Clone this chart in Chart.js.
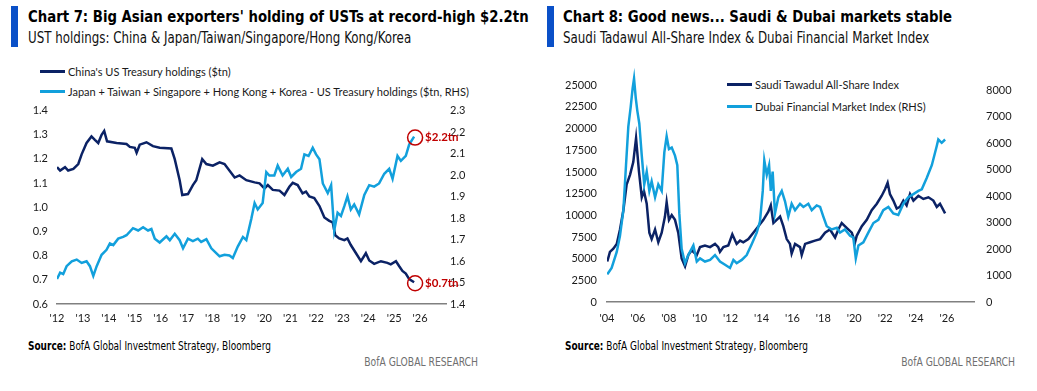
<!DOCTYPE html>
<html>
<head>
<meta charset="utf-8">
<script src="https://cdn.jsdelivr.net/npm/chart.js@4.4.1/dist/chart.umd.min.js"></script>
<style>
  body { margin: 0; width: 1037px; height: 391px; background: #fff; overflow: hidden; position: relative;
         font-family: "Liberation Sans Narrow", "DejaVu Sans Condensed", sans-serif; }
  .bar { position: absolute; top: 6px; width: 7px; height: 41px; background: #0a50c8; }
  .title { position: absolute; top: 8px; font-weight: bold; font-size: 15px; line-height: 18px; color: #000;
           white-space: nowrap; transform: scaleX(0.983); transform-origin: 0 0; }
  .sub { position: absolute; top: 29px; font-size: 15px; line-height: 18px; color: #111; white-space: nowrap;
         transform: scaleX(0.88); transform-origin: 0 0; }
  .src { position: absolute; top: 339px; font-size: 12px; line-height: 14px; color: #000; white-space: nowrap;
         transform: scaleX(0.83); transform-origin: 0 0; }
  .brand { position: absolute; top: 355px; font-size: 12.5px; line-height: 14px; color: #707070; white-space: nowrap;
           transform: scaleX(0.82); transform-origin: 100% 0; text-align: right; width: 200px; }
  .leg { position: absolute; height: 16px; display: flex; align-items: center; font-family: Lato, sans-serif;
         font-size: 11px; color: #1a1a1a; white-space: nowrap; }
  .leg i { display: inline-block; width: 25px; height: 3px; margin-right: 3px; }
  canvas { position: absolute; }
</style>
</head>
<body>
<div class="bar" style="left:11px"></div>
<div class="title" style="left:28px">Chart 7: Big Asian exporters' holding of USTs at record-high $2.2tn</div>
<div class="sub" style="left:28px">UST holdings: China &amp; Japan/Taiwan/Singapore/Hong Kong/Korea</div>

<div class="bar" style="left:547px"></div>
<div class="title" style="left:563px">Chart 8: Good news... Saudi &amp; Dubai markets stable</div>
<div class="sub" style="left:563px">Saudi Tadawul All-Share Index &amp; Dubai Financial Market Index</div>

<div class="leg" style="left:40px;top:63px"><i style="background:#0b2265"></i>China's US Treasury holdings ($tn)</div>
<div class="leg" style="left:40px;top:83px"><i style="background:#12a0dc"></i>Japan + Taiwan + Singapore + Hong Kong + Korea - US Treasury holdings ($tn, RHS)</div>

<div class="leg" style="left:727px;top:76px"><i style="background:#0b2265"></i>Saudi Tawadul All-Share Index</div>
<div class="leg" style="left:727px;top:98px"><i style="background:#12a0dc"></i>Dubai Financial Market Index (RHS)</div>

<canvas id="c7" width="520" height="240" style="left:0;top:95px"></canvas>
<canvas id="c8" width="517" height="290" style="left:520px;top:45px"></canvas>

<div class="src" style="left:28px"><b>Source:</b> BofA Global Investment Strategy, Bloomberg</div>
<div class="brand" style="left:278px">BofA GLOBAL RESEARCH</div>
<div class="src" style="left:565px"><b>Source:</b> BofA Global Investment Strategy, Bloomberg</div>
<div class="brand" style="left:815px">BofA GLOBAL RESEARCH</div>

<script>
// chart 7 - UST holdings
const chinaDates = [2012.0, 2012.12, 2012.31, 2012.43, 2012.63, 2012.82, 2012.95, 2013.14, 2013.33, 2013.46, 2013.59,
  2013.72, 2013.82, 2013.93, 2014.3, 2014.68, 2014.81, 2015.0, 2015.07, 2015.19, 2015.45, 2015.7, 2015.96, 2016.41,
  2016.54, 2016.73, 2016.83, 2017.05, 2017.24, 2017.37, 2017.6, 2017.76, 2018.01, 2018.27, 2018.46, 2018.85, 2019.04,
  2019.3, 2019.62, 2019.81, 2020.0, 2020.13, 2020.32, 2020.58, 2020.77, 2020.96, 2021.09, 2021.28, 2021.47, 2021.6,
  2021.73, 2021.92, 2022.12, 2022.31, 2022.5, 2022.63, 2022.73, 2022.88, 2023.08, 2023.2, 2023.33, 2023.53, 2023.72,
  2023.91, 2024.04, 2024.23, 2024.49, 2024.74, 2024.87, 2025.07, 2025.19, 2025.32, 2025.45, 2025.58, 2025.77];
const chinaVals = [1.166, 1.152, 1.166, 1.152, 1.159, 1.179, 1.219, 1.266, 1.293, 1.279, 1.266,
  1.30, 1.316, 1.273, 1.266, 1.262, 1.25, 1.246, 1.226, 1.259, 1.269, 1.253, 1.246, 1.243,
  1.199, 1.112, 1.051, 1.055, 1.092, 1.112, 1.199, 1.179, 1.172, 1.186, 1.179, 1.123, 1.132,
  1.112, 1.103, 1.099, 1.078, 1.092, 1.072, 1.069, 1.051, 1.085, 1.101, 1.092, 1.058, 1.065,
  1.045, 1.038, 1.005, 0.958, 0.944, 0.938, 0.884, 0.871, 0.864, 0.871, 0.844, 0.81, 0.777,
  0.81, 0.78, 0.766, 0.777, 0.77, 0.764, 0.777, 0.757, 0.737, 0.726, 0.703, 0.69];

const asiaDates = [2012.0, 2012.12, 2012.24, 2012.37, 2012.57, 2012.76, 2012.95, 2013.14, 2013.27, 2013.4, 2013.53,
  2013.72, 2013.91, 2014.04, 2014.17, 2014.36, 2014.55, 2014.68, 2014.93, 2015.13, 2015.32, 2015.51, 2015.64, 2015.77,
  2015.96, 2016.22, 2016.35, 2016.54, 2016.73, 2016.86, 2017.05, 2017.24, 2017.43, 2017.56, 2017.76, 2017.95, 2018.14,
  2018.27, 2018.46, 2018.65, 2018.78, 2018.97, 2019.17, 2019.3, 2019.49, 2019.62, 2019.74, 2019.93, 2020.07, 2020.19,
  2020.38, 2020.51, 2020.7, 2020.9, 2021.03, 2021.22, 2021.41, 2021.54, 2021.7, 2021.86, 2021.99, 2022.12, 2022.25,
  2022.44, 2022.57, 2022.69, 2022.82, 2022.95, 2023.08, 2023.2, 2023.33, 2023.46, 2023.65, 2023.85, 2024.04, 2024.23,
  2024.42, 2024.62, 2024.81, 2024.94, 2025.13, 2025.26, 2025.45, 2025.58, 2025.77];
const asiaVals = [1.516, 1.546, 1.539, 1.576, 1.599, 1.607, 1.591, 1.599, 1.576, 1.531, 1.576,
  1.629, 1.652, 1.682, 1.674, 1.704, 1.712, 1.72, 1.753, 1.742, 1.757, 1.742, 1.749, 1.704,
  1.686, 1.715, 1.697, 1.727, 1.697, 1.659, 1.704, 1.693, 1.704, 1.689, 1.702, 1.659, 1.637,
  1.622, 1.629, 1.626, 1.614, 1.667, 1.712, 1.697, 1.795, 1.87, 1.84, 1.87, 2.014, 1.998,
  1.998, 2.044, 1.998, 2.029, 1.991, 2.014, 2.029, 2.096, 2.089, 2.127, 2.096, 2.074, 1.961,
  1.916, 1.953, 1.742, 1.825, 1.81, 1.855, 1.901, 1.84, 1.863, 1.817, 1.908, 1.953, 1.946,
  1.961, 2.006, 2.029, 1.983, 2.089, 2.066, 2.089, 2.142, 2.179];

const c7Years = [2012, 2013, 2014, 2015, 2016, 2017, 2018, 2019, 2020, 2021, 2022, 2023, 2024, 2025, 2026];
const c7YearLabels = ["'12", "'13", "'14", "'15", "'16", "'17", "'18", "'19", "'20", "'21", "'22", "'23", "'24", "'25", "'26"];
const c7EndLabels = ['$0.7tn', '$2.2tn'];

// chart 8 - Saudi / Dubai
const saudiDates = [2004.02, 2004.19, 2004.41, 2004.63, 2004.84, 2005.06, 2005.27, 2005.49, 2005.7, 2005.88, 2005.96,
  2006.07, 2006.25, 2006.39, 2006.57, 2006.74, 2006.89, 2007.11, 2007.32, 2007.54, 2007.75, 2007.86, 2008.01, 2008.19,
  2008.4, 2008.61, 2008.83, 2009.05, 2009.26, 2009.48, 2009.81, 2010.02, 2010.34, 2010.67, 2010.99, 2011.2, 2011.31,
  2011.53, 2011.85, 2012.11, 2012.39, 2012.61, 2012.82, 2013.15, 2013.47, 2013.8, 2014.12, 2014.44, 2014.6, 2014.77,
  2014.98, 2015.2, 2015.41, 2015.63, 2015.84, 2015.95, 2016.17, 2016.49, 2016.6, 2016.82, 2017.14, 2017.46, 2017.79,
  2018.11, 2018.43, 2018.76, 2018.97, 2019.19, 2019.51, 2019.84, 2020.05, 2020.16, 2020.49, 2020.81, 2021.13, 2021.46,
  2021.78, 2021.99, 2022.16, 2022.31, 2022.53, 2022.75, 2022.96, 2023.18, 2023.39, 2023.61, 2023.83, 2024.15, 2024.47,
  2024.8, 2025.12, 2025.34, 2025.55, 2025.88];
const saudiVals = [4667, 5778, 6144, 6700, 8367, 10589, 13556, 14667, 16144, 18900, 17256,
  15033, 12078, 12811, 11333, 8000, 7256, 8367, 6889, 8000, 9856, 11522, 9478, 10033,
  9478, 8000, 5033, 4111, 5411, 5967, 5411, 6333, 6522, 6333, 6700, 6333, 5778,
  6333, 6522, 7811, 6700, 7078, 6889, 7256, 8000, 8744, 9478, 10411, 11144, 9111,
  9478, 9856, 8744, 7256, 6700, 5589, 6700, 6333, 5411, 6700, 6889, 7078, 7256,
  8000, 8367, 7444, 8367, 9111, 8556, 8000, 6889, 7633, 8744, 9478, 10589, 11333,
  12256, 13000, 13744, 12444, 11700, 10778, 10967, 11700, 11144, 12444, 11700, 12256, 11889,
  12078, 11700, 10967, 11333, 10222];

const dubaiDates = [2004.02, 2004.3, 2004.63, 2004.84, 2005.06, 2005.23, 2005.38, 2005.53, 2005.66, 2005.75, 2005.86,
  2005.96, 2006.09, 2006.25, 2006.41, 2006.57, 2006.74, 2006.89, 2007.11, 2007.32, 2007.54, 2007.71, 2007.86, 2008.01,
  2008.19, 2008.4, 2008.55, 2008.68, 2008.83, 2009.05, 2009.26, 2009.59, 2009.81, 2010.02, 2010.34, 2010.67, 2010.99,
  2011.31, 2011.64, 2011.96, 2012.18, 2012.39, 2012.72, 2013.04, 2013.37, 2013.69, 2013.9, 2014.08, 2014.18, 2014.34,
  2014.49, 2014.6, 2014.72, 2014.87, 2015.09, 2015.31, 2015.52, 2015.73, 2015.95, 2016.17, 2016.49, 2016.71, 2017.03,
  2017.25, 2017.57, 2017.79, 2018.0, 2018.22, 2018.54, 2018.87, 2019.08, 2019.4, 2019.73, 2019.94, 2020.1, 2020.27,
  2020.59, 2020.91, 2021.24, 2021.56, 2021.88, 2022.21, 2022.53, 2022.85, 2023.18, 2023.5, 2023.83, 2024.15, 2024.37,
  2024.69, 2025.02, 2025.34, 2025.44, 2025.66, 2025.88];
const dubaiVals = [1044, 1284, 1891, 2498, 3465, 5164, 6618, 7345, 8073, 8436, 7709,
  7225, 6738, 5527, 4436, 4920, 4193, 4556, 3953, 4436, 4193, 5647, 6255, 5771,
  5829, 5527, 5164, 3345, 2011, 1465, 1771, 2135, 1527, 1647, 1527, 1589, 1771,
  1527, 1407, 1284, 1589, 1465, 1589, 1771, 2193, 2618, 3044, 4193, 5345, 4800,
  5164, 4193, 4920, 3345, 3953, 4193, 3800, 3225, 3709, 3465, 3709, 3589, 3709,
  3465, 3647, 3589, 3225, 2862, 2738, 2800, 2618, 2738, 2498, 2436, 1647, 2135,
  2255, 2618, 2982, 3102, 3465, 3589, 3345, 3284, 3709, 3953, 4073, 4193, 4255,
  4680, 5164, 5891, 6135, 6011, 6135];

const c8Years = [2004, 2006, 2008, 2010, 2012, 2014, 2016, 2018, 2020, 2022, 2024, 2026];
const c8YearLabels = ["'04", "'06", "'08", "'10", "'12", "'14", "'16", "'18", "'20", "'22", "'24", "'26"];

const NAVY = '#0b2265';
const SKY = '#12a0dc';
const tickFont = { family: 'Lato', size: 11 };

const pts = (xs, ys) => xs.map((x, i) => ({ x, y: ys[i] }));

// red circle + label on the last point of each series
const endMarks = {
  id: 'endMarks',
  afterDatasetsDraw(chart, args, opts) {
    if (!opts.labels) return;
    const ctx = chart.ctx;
    chart.data.datasets.forEach((ds, i) => {
      const meta = chart.getDatasetMeta(i);
      const p = meta.data[meta.data.length - 1];
      ctx.save();
      ctx.strokeStyle = '#c00000';
      ctx.lineWidth = 1.5;
      ctx.beginPath();
      ctx.arc(p.x + 1, p.y + 1, 7.5, 0, Math.PI * 2);
      ctx.stroke();
      ctx.fillStyle = '#c00000';
      ctx.font = 'bold 11.5px Lato';
      ctx.textBaseline = 'middle';
      ctx.fillText(opts.labels[i], p.x + 11, p.y + 1);
      ctx.restore();
    });
  }
};

new Chart(document.getElementById('c7'), {
  type: 'line',
  data: {
    datasets: [
      { label: "China's US Treasury holdings ($tn)", data: pts(chinaDates, chinaVals), yAxisID: 'y',
        borderColor: NAVY, borderWidth: 2.5, pointRadius: 0, tension: 0, order: 1 },
      { label: 'Japan + Taiwan + Singapore + Hong Kong + Korea - US Treasury holdings ($tn, RHS)',
        data: pts(asiaDates, asiaVals), yAxisID: 'y2',
        borderColor: SKY, borderWidth: 2.5, pointRadius: 0, tension: 0, order: 0 }
    ]
  },
  options: {
    responsive: false,
    animation: false,
    devicePixelRatio: 1,
    layout: { padding: { top: 10, left: 0, right: 0, bottom: 0 } },
    plugins: { legend: { display: false }, tooltip: { enabled: false }, endMarks: { labels: c7EndLabels } },
    scales: {
      x: {
        type: 'linear', min: 2012, max: 2027,
        afterBuildTicks: a => { a.ticks = c7Years.map(v => ({ value: v })); },
        afterFit: a => { a.height = 31; },
        grid: { display: false, drawTicks: false },
        border: { display: true, color: '#808080', width: 1.5 },
        ticks: { font: tickFont, color: '#1a1a1a', padding: 8, maxRotation: 0, autoSkip: false,
                 callback: v => c7YearLabels[c7Years.indexOf(v)] }
      },
      y: {
        position: 'left', min: 0.6, max: 1.4,
        afterFit: a => { a.width = 57; },
        grid: { display: false, drawTicks: false },
        border: { display: false },
        ticks: { stepSize: 0.1, font: tickFont, color: '#1a1a1a', padding: 9, callback: v => Number(v).toFixed(1) }
      },
      y2: {
        position: 'right', min: 1.4, max: 2.3,
        afterFit: a => { a.width = 74; },
        grid: { display: false, drawTicks: false },
        border: { display: false },
        ticks: { stepSize: 0.1, font: tickFont, color: '#1a1a1a', padding: 4, callback: v => Number(v).toFixed(1) }
      }
    }
  },
  plugins: [endMarks]
});

new Chart(document.getElementById('c8'), {
  type: 'line',
  data: {
    datasets: [
      { label: 'Saudi Tawadul All-Share Index', data: pts(saudiDates, saudiVals), yAxisID: 'y',
        borderColor: NAVY, borderWidth: 2.5, pointRadius: 0, tension: 0, order: 1 },
      { label: 'Dubai Financial Market Index (RHS)', data: pts(dubaiDates, dubaiVals), yAxisID: 'y2',
        borderColor: SKY, borderWidth: 2.5, pointRadius: 0, tension: 0, order: 0 }
    ]
  },
  options: {
    responsive: false,
    animation: false,
    devicePixelRatio: 1,
    layout: { padding: { top: 9.5, left: 0, right: 0, bottom: 0 } },
    plugins: { legend: { display: false }, tooltip: { enabled: false } },
    scales: {
      x: {
        type: 'linear', min: 2004, max: 2027.75,
        afterBuildTicks: a => { a.ticks = c8Years.map(v => ({ value: v })); },
        afterFit: a => { a.height = 33; },
        grid: { display: false, drawTicks: false },
        border: { display: true, color: '#808080', width: 1.5 },
        ticks: { font: tickFont, color: '#1a1a1a', padding: 10, maxRotation: 0, autoSkip: false,
                 callback: v => c8YearLabels[c8Years.indexOf(v)] }
      },
      y: {
        position: 'left', min: 0, max: 27500,
        afterFit: a => { a.width = 87; },
        grid: { display: false, drawTicks: false },
        border: { display: false },
        ticks: { stepSize: 2500, font: tickFont, color: '#1a1a1a', padding: 10,
                 callback: v => (v >= 27500 ? '' : String(v)) }
      },
      y2: {
        position: 'right', min: 0, max: 9000,
        afterFit: a => { a.width = 63; },
        grid: { display: false, drawTicks: false },
        border: { display: false },
        ticks: { stepSize: 1000, font: tickFont, color: '#1a1a1a', padding: 12,
                 callback: v => (v >= 9000 ? '' : String(v)) }
      }
    }
  }
});
</script>
</body>
</html>
